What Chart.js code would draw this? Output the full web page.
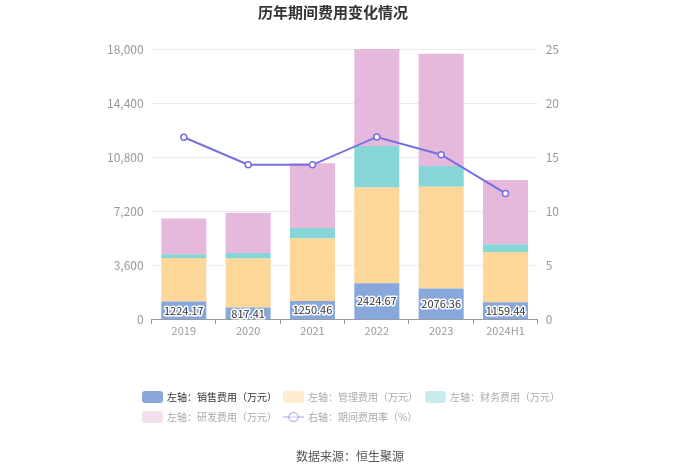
<!DOCTYPE html>
<html lang="zh">
<head>
    <meta charset="UTF-8">
    <title>历年期间费用变化情况</title>
    <script src="https://cdn.jsdelivr.net/npm/chart.js"></script>
    <style>
        body { margin: 0; background: #fff; }
        .wrap { width: 700px; height: 473px; }
    </style>
</head>
<body>
    <div class="wrap"><canvas id="feeChart"></canvas></div>

    <script>
        const years = ['2019', '2020', '2021', '2022', '2023', '2024H1'];
        const salesFee = [1224.17, 817.41, 1250.46, 2424.67, 2076.36, 1159.44];
        const adminFee = [2883, 3250, 4150, 6375, 6764, 3348];
        const financeFee = [246, 373, 707, 2753, 1380, 513];
        const rdFee = [2380, 2667, 4293, 6447, 7467, 4267];
        const feeRate = [16.85, 14.31, 14.31, 16.88, 15.24, 11.67];
        const leftTicks = [0, 3600, 7200, 10800, 14400, 18000];
        const rightTicks = [0, 5, 10, 15, 20, 25];

        const FONT = '"Noto Sans CJK SC", "Noto Sans", sans-serif';

        // 销售费用数值标签
        const barLabels = {
            id: 'barLabels',
            afterDatasetsDraw(chart) {
                const ctx = chart.ctx;
                const meta = chart.getDatasetMeta(0);
                ctx.save();
                ctx.font = '11px ' + FONT;
                ctx.textAlign = 'center';
                ctx.textBaseline = 'middle';
                ctx.lineJoin = 'round';
                meta.data.forEach((bar, i) => {
                    const y = (bar.y + bar.base) / 2;
                    const txt = salesFee[i].toFixed(2);
                    ctx.strokeStyle = '#fff';
                    ctx.lineWidth = 3;
                    ctx.strokeText(txt, bar.x, y);
                    ctx.fillStyle = '#333';
                    ctx.fillText(txt, bar.x, y);
                });
                ctx.restore();
            }
        };

        // 图例（两行网格）+ 数据来源
        const gridLegend = {
            id: 'gridLegend',
            afterDraw(chart) {
                const ctx = chart.ctx;
                const cols = [142, 283, 425];
                const rows = [397, 417];
                ctx.save();
                ctx.font = '10px ' + FONT;
                ctx.textBaseline = 'middle';
                chart.data.datasets.forEach((ds, i) => {
                    const x = cols[i % 3];
                    const y = rows[Math.floor(i / 3)];
                    ctx.globalAlpha = i === 0 ? 1 : 0.45;
                    if (ds.type === 'line') {
                        ctx.strokeStyle = ds.borderColor;
                        ctx.lineWidth = 1.5;
                        ctx.beginPath();
                        ctx.moveTo(x, y);
                        ctx.lineTo(x + 21, y);
                        ctx.stroke();
                        ctx.beginPath();
                        ctx.arc(x + 10.5, y, 4.5, 0, Math.PI * 2);
                        ctx.fillStyle = '#fff';
                        ctx.fill();
                        ctx.stroke();
                    } else {
                        ctx.fillStyle = ds.backgroundColor;
                        ctx.beginPath();
                        ctx.roundRect(x, y - 6, 21, 12, 3);
                        ctx.fill();
                    }
                    ctx.globalAlpha = 1;
                    ctx.fillStyle = i === 0 ? '#333' : '#aaa';
                    ctx.fillText(ds.label, x + 25, y);
                });
                ctx.fillStyle = '#555';
                ctx.font = '12px ' + FONT;
                ctx.textAlign = 'center';
                ctx.fillText('数据来源：恒生聚源', 350, 456);
                ctx.restore();
            }
        };

        const ctx = document.getElementById('feeChart').getContext('2d');
        new Chart(ctx, {
            data: {
                labels: years,
                datasets: [
                    { type: 'bar', label: '左轴：销售费用（万元）', data: salesFee, backgroundColor: '#88a8dc', yAxisID: 'y', stack: 's', order: 2 },
                    { type: 'bar', label: '左轴：管理费用（万元）', data: adminFee, backgroundColor: '#fdd79a', yAxisID: 'y', stack: 's', order: 2 },
                    { type: 'bar', label: '左轴：财务费用（万元）', data: financeFee, backgroundColor: '#86d5d7', yAxisID: 'y', stack: 's', order: 2 },
                    { type: 'bar', label: '左轴：研发费用（万元）', data: rdFee, backgroundColor: '#e6b9dc', yAxisID: 'y', stack: 's', order: 2 },
                    {
                        type: 'line', label: '右轴：期间费用率（%）', data: feeRate, yAxisID: 'y1', order: 1,
                        borderColor: '#7470e2', borderWidth: 2, backgroundColor: '#fff',
                        pointRadius: 3, pointBorderWidth: 1.5, pointBackgroundColor: '#fff', tension: 0
                    }
                ]
            },
            options: {
                responsive: true,
                maintainAspectRatio: false,
                animation: false,
                layout: { padding: { left: 99, right: 133, top: 0, bottom: 136 } },
                datasets: { bar: { barPercentage: 0.7, categoryPercentage: 1 } },
                plugins: {
                    legend: { display: false },
                    tooltip: { enabled: false },
                    title: {
                        display: true,
                        text: '历年期间费用变化情况',
                        color: '#333',
                        font: { family: FONT, size: 15, weight: 'bold' },
                        padding: { top: 3, bottom: 28 }
                    }
                },
                scales: {
                    x: {
                        stacked: true,
                        grid: { drawOnChartArea: false, color: '#999', tickLength: 4, offset: true },
                        border: { color: '#999' },
                        ticks: { color: '#999', font: { family: FONT, size: 11 }, padding: 0 }
                    },
                    y: {
                        stacked: true,
                        position: 'left',
                        min: 0, max: 18000,
                        afterBuildTicks: s => { s.ticks = leftTicks.map(v => ({ value: v })); },
                        grid: { color: '#e9ecf3', drawTicks: false },
                        border: { display: false },
                        ticks: { color: '#999', font: { family: FONT, size: 12 }, padding: 8,
                                 callback: v => v.toLocaleString('en-US') }
                    },
                    y1: {
                        position: 'right',
                        min: 0, max: 25,
                        afterBuildTicks: s => { s.ticks = rightTicks.map(v => ({ value: v })); },
                        grid: { drawOnChartArea: false, drawTicks: false },
                        border: { display: false },
                        ticks: { color: '#999', font: { family: FONT, size: 12 }, padding: 8 }
                    }
                }
            },
            plugins: [barLabels, gridLegend]
        });
    </script>
</body>
</html>
